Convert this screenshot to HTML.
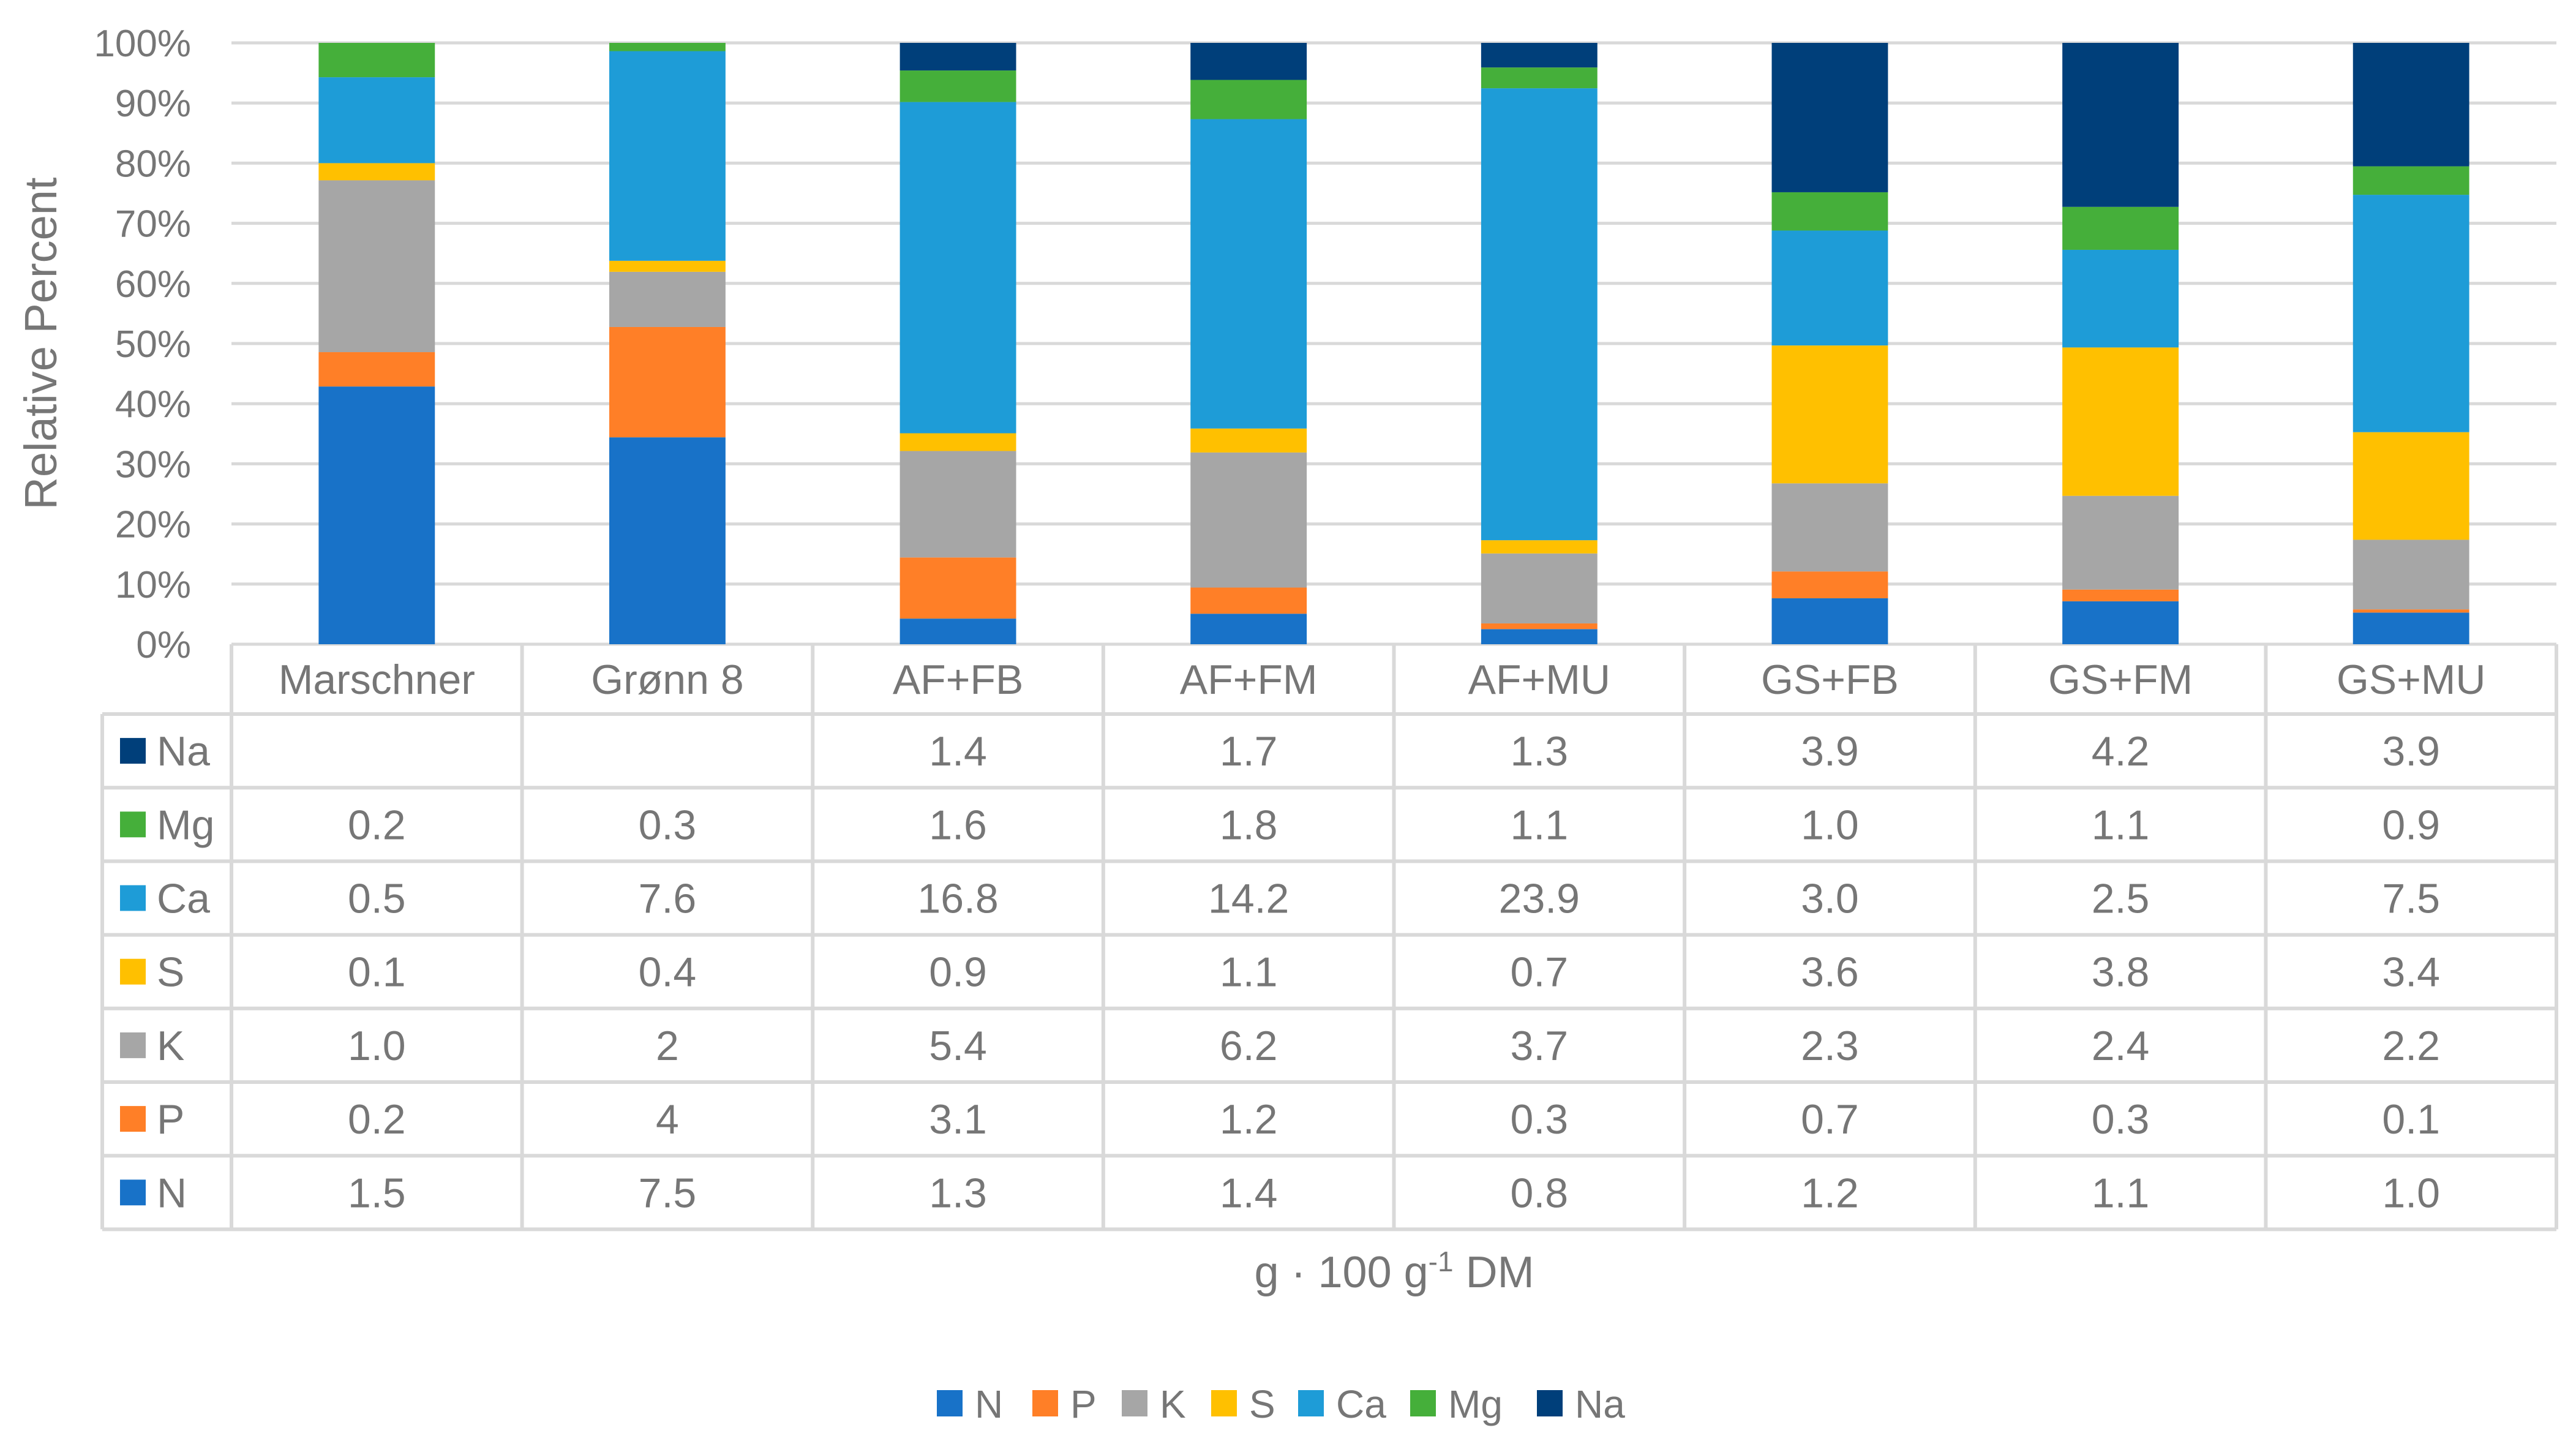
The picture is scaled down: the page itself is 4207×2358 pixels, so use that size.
<!DOCTYPE html>
<html><head><meta charset="utf-8"><style>
html,body{margin:0;padding:0;background:#fff;}
svg{display:block;font-family:"Liberation Sans",sans-serif;}
</style></head><body>
<svg id="chart" width="4207" height="2358" viewBox="0 0 4207 2358" xmlns="http://www.w3.org/2000/svg">
<g id="grid"></g><g id="bars"></g><g id="table"></g><g id="legend"></g>
<text x="0" y="0" transform="translate(92,561) rotate(-90)" text-anchor="middle" font-size="74" fill="#767676">Relative Percent</text>
<text x="2277" y="2102" text-anchor="middle" font-size="72" fill="#767676">g · 100 g<tspan dy="-26" font-size="46">-1</tspan><tspan dy="26"> DM</tspan></text>
</svg>
<script>
const categories=["Marschner","Grønn 8","AF+FB","AF+FM","AF+MU","GS+FB","GS+FM","GS+MU"];
const seriesNames=["N","P","K","S","Ca","Mg","Na"];
const N=[1.5,7.5,1.3,1.4,0.8,1.2,1.1,1.0];
const P=[0.2,4,3.1,1.2,0.3,0.7,0.3,0.1];
const K=[1.0,2,5.4,6.2,3.7,2.3,2.4,2.2];
const S=[0.1,0.4,0.9,1.1,0.7,3.6,3.8,3.4];
const Ca=[0.5,7.6,16.8,14.2,23.9,3.0,2.5,7.5];
const Mg=[0.2,0.3,1.6,1.8,1.1,1.0,1.1,0.9];
const Na=[null,null,1.4,1.7,1.3,3.9,4.2,3.9];
const labelN=["1.5","7.5","1.3","1.4","0.8","1.2","1.1","1.0"];
const labelP=["0.2","4","3.1","1.2","0.3","0.7","0.3","0.1"];
const labelK=["1.0","2","5.4","6.2","3.7","2.3","2.4","2.2"];
const labelS=["0.1","0.4","0.9","1.1","0.7","3.6","3.8","3.4"];
const labelCa=["0.5","7.6","16.8","14.2","23.9","3.0","2.5","7.5"];
const labelMg=["0.2","0.3","1.6","1.8","1.1","1.0","1.1","0.9"];
const labelNa=["","","1.4","1.7","1.3","3.9","4.2","3.9"];
const yTicks=[0,10,20,30,40,50,60,70,80,90,100];

const series=[N,P,K,S,Ca,Mg,Na];
const labels=[labelN,labelP,labelK,labelS,labelCa,labelMg,labelNa];
const colors=["#1872C8","#FF7F27","#A6A6A6","#FFC000","#1E9CD7","#45AF3A","#003F7A"];
const NS="http://www.w3.org/2000/svg";
const L=378,R=4175,T=70,B=1052,GRAY="#767676",GRID="#D9D9D9";
const colW=(R-L)/categories.length;
const y=v=>B-(v/100)*(B-T);
const x=i=>L+i*colW;
function mk(t,a,p){const e=document.createElementNS(NS,t);for(const k in a)e.setAttribute(k,a[k]);p.appendChild(e);return e;}
const grid=document.getElementById('grid'),bars=document.getElementById('bars'),tbl=document.getElementById('table'),leg=document.getElementById('legend');
yTicks.forEach(t=>{
  const ln=mk('line',{x1:L,x2:R,y1:y(t),y2:y(t),stroke:GRID,'stroke-width':5},grid);
  
  
  const tx=mk('text',{x:312,y:y(t)+22,'text-anchor':'end','font-size':62,fill:GRAY},grid);
  tx.textContent=t+'%';
  
  
});
categories.forEach((c,i)=>{
  let tot=0;series.forEach(s=>{tot+=s[i]||0;});
  let acc=0;const bw=colW*0.4,bx=x(i)+(colW-bw)/2;
  series.forEach((s,j)=>{
    const v=s[i]||0;if(!v)return;
    const p0=acc/tot*100,p1=(acc+v)/tot*100;acc+=v;
    const r=mk('rect',{x:bx,y:y(p1),width:bw,height:y(p0)-y(p1),fill:colors[j]},bars);
    
    
  });
});
const rowTop=1166,rowH=120.2,legL=167;
const order=[6,5,4,3,2,1,0];
const lineSty={stroke:GRID,'stroke-width':6};
mk('line',Object.assign({x1:L,x2:L,y1:B,y2:rowTop+rowH*7},lineSty),tbl);
for(let i=1;i<=categories.length;i++)mk('line',Object.assign({x1:x(i),x2:x(i),y1:B,y2:rowTop+rowH*7},lineSty),tbl);
mk('line',Object.assign({x1:legL,x2:legL,y1:rowTop,y2:rowTop+rowH*7},lineSty),tbl);
for(let r=0;r<=7;r++)mk('line',Object.assign({x1:legL,x2:R,y1:rowTop+r*rowH,y2:rowTop+r*rowH},lineSty),tbl);
categories.forEach((c,i)=>{
  const t=mk('text',{x:x(i)+colW/2,y:1133,'text-anchor':'middle','font-size':68,fill:GRAY},tbl);
  t.textContent=c;
  
  
});
order.forEach((j,r)=>{
  const cy=rowTop+r*rowH+rowH/2;
  const sq=mk('rect',{x:196,y:cy-21,width:42,height:42,fill:colors[j]},tbl);
  
  
  const nt=mk('text',{x:256,y:cy+24,'font-size':68,fill:GRAY},tbl);
  nt.textContent=seriesNames[j];
  
  
  labels[j].forEach((lv,i)=>{
    if(!lv)return;
    const t=mk('text',{x:x(i)+colW/2,y:cy+24,'text-anchor':'middle','font-size':68,fill:GRAY},tbl);
    t.textContent=lv;
    
    
  });
});
const legX=[1530,1686,1832,1978,2120,2303,2510];
seriesNames.forEach((n,j)=>{
  const sq=mk('rect',{x:legX[j],y:2270,width:42,height:43,fill:colors[j]},leg);
  
  
  const t=mk('text',{x:legX[j]+62,y:2315,'font-size':64,fill:GRAY},leg);
  t.textContent=n;
  
  
});
</script>
</body></html>
